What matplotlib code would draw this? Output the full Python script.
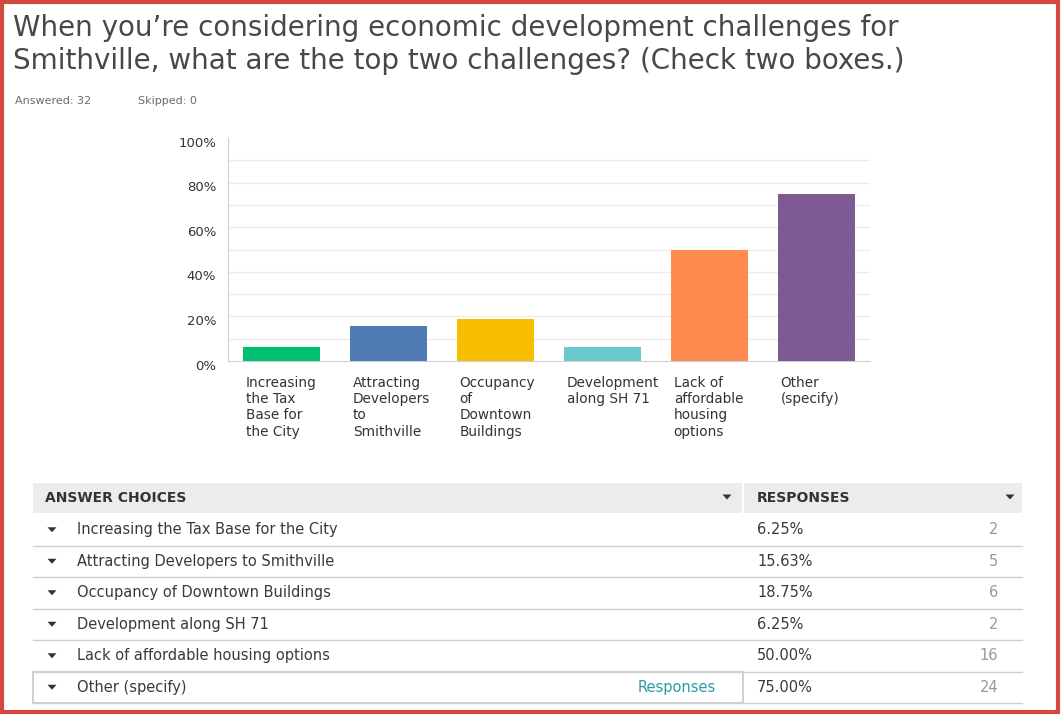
import numpy as np
import matplotlib
matplotlib.use("Agg")
from matplotlib import pyplot as plt
from matplotlib.patches import Rectangle, Polygon
from matplotlib.lines import Line2D
from matplotlib.transforms import blended_transform_factory

plt.rcParams['font.family'] = ['DejaVu Sans']

# data
categories = ['Increasing the Tax Base for the City',
              'Attracting Developers to Smithville',
              'Occupancy of Downtown Buildings',
              'Development along SH 71',
              'Lack of affordable housing options',
              'Other (specify)']
bar_labels = ['Increasing\nthe Tax\nBase for\nthe City',
              'Attracting\nDevelopers\nto\nSmithville',
              'Occupancy\nof\nDowntown\nBuildings',
              'Development\nalong SH 71',
              'Lack of\naffordable\nhousing\noptions',
              'Other\n(specify)']
percents = [6.25, 15.63, 18.75, 6.25, 50.00, 75.00]
counts = [2, 5, 6, 2, 16, 24]
colors = ['#00bf6f', '#507cb6', '#f9be00', '#6bc8cd', '#ff8b4f', '#7d5a94']
ytick_vals = [0, 20, 40, 60, 80, 100]

W, H = 1061, 715
fig = plt.figure(figsize=(W / 100, H / 100), dpi=100)
fig.patch.set_facecolor('white')


def fx(x):
    return x / W


def fy(y):
    return 1 - y / H


# red frame
fig.patches.append(Rectangle((fx(1.5), fy(712)), fx(1056.5), (712 - 1.5) / H,
                             transform=fig.transFigure, fill=False,
                             edgecolor='#d4493f', lw=3))

# title
fig.text(fx(13), fy(28), 'When you\u2019re considering economic development challenges for',
         fontsize=20, color='#484848', va='center', ha='left')
fig.text(fx(13), fy(61), 'Smithville, what are the top two challenges? (Check two boxes.)',
         fontsize=20, color='#484848', va='center', ha='left')
fig.text(fx(15), fy(101), 'Answered: 32', fontsize=8, color='#6b6b6b', va='center')
fig.text(fx(138), fy(101), 'Skipped: 0', fontsize=8, color='#6b6b6b', va='center')

# bar chart
ax = fig.add_axes([fx(228), fy(361), fx(870 - 228), (361 - 138) / H])
x = np.arange(len(categories))
ax.bar(x, percents, width=0.72, color=colors, zorder=3)
ax.set_xlim(-0.5, 5.5)
ax.set_ylim(0, 100)
ax.set_yticks(np.arange(10, 100, 10))
ax.yaxis.grid(True, color='#ececec', lw=1)
ax.set_yticklabels([])
ax.set_xticks([])
ax.tick_params(length=0)
for s in ['top', 'right']:
    ax.spines[s].set_visible(False)
ax.spines['left'].set_color('#d0d0d0')
ax.spines['bottom'].set_color('#d0d0d0')

ytrans = blended_transform_factory(fig.transFigure, ax.transData)
for v in ytick_vals:
    ax.text(fx(216), v - 2.3, f'{v}%', transform=ytrans, ha='right', va='center',
            fontsize=9.5, color='#333333')

xtrans = blended_transform_factory(ax.transData, fig.transFigure)
for i, lab in enumerate(bar_labels):
    ax.text(i - 0.335, fy(376), lab, transform=xtrans, ha='left', va='top',
            fontsize=9.8, color='#333333', linespacing=1.2, clip_on=False)

# table
tl, tr, sep = 33, 1022, 743
fig.patches.append(Rectangle((fx(tl), fy(513)), fx(sep - 1 - tl), 30 / H,
                             transform=fig.transFigure, color='#ececec', lw=0))
fig.patches.append(Rectangle((fx(sep + 1), fy(513)), fx(tr - sep - 1), 30 / H,
                             transform=fig.transFigure, color='#ececec', lw=0))
fig.text(fx(45), fy(498), 'ANSWER CHOICES', fontsize=10, fontweight='bold',
         color='#333333', va='center')
fig.text(fx(757), fy(498), 'RESPONSES', fontsize=10, fontweight='bold',
         color='#333333', va='center')


def tri(cx, cy):
    pts = [(fx(cx - 4.5), fy(cy - 2.5)), (fx(cx + 4.5), fy(cy - 2.5)), (fx(cx), fy(cy + 2.5))]
    fig.patches.append(Polygon(pts, closed=True, transform=fig.transFigure,
                               color='#333333', lw=0))


tri(727, 497)
tri(1010, 497)

row_top = 514
row_h = 31.5
for i, cat in enumerate(categories):
    y0 = row_top + i * row_h
    yc = y0 + row_h / 2
    yb = y0 + row_h
    fig.lines.append(Line2D([fx(tl), fx(tr)], [fy(yb), fy(yb)], transform=fig.transFigure,
                            color='#d0d0d0', lw=1))
    tri(52, yc)
    fig.text(fx(77), fy(yc), cat, fontsize=10.5, color='#3a3a3a', va='center')
    fig.text(fx(757), fy(yc), f'{percents[i]:.2f}%', fontsize=10.5, color='#3a3a3a', va='center')
    fig.text(fx(998), fy(yc), str(counts[i]), fontsize=10.5, color='#999999',
             va='center', ha='right')
    if cat.startswith('Other'):
        fig.patches.append(Rectangle((fx(tl), fy(yb)), fx(sep - tl), row_h / H,
                                     transform=fig.transFigure, fill=False,
                                     edgecolor='#c8c8c8', lw=1.2))
        fig.text(fx(716), fy(yc), 'Responses', fontsize=10.5, color='#2a9aa5',
                 va='center', ha='right')

fig.savefig('out.png', dpi=100)
